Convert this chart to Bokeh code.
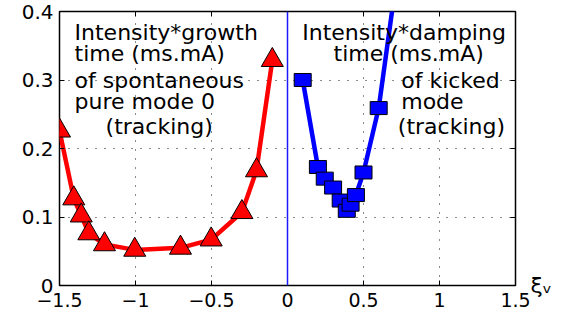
from bokeh.plotting import figure
from bokeh.models import Range1d, FixedTicker, LinearAxis, Span, Label
from bokeh.embed import file_html
from bokeh.resources import INLINE

# ---- data ----
growth_xi = [-1.5, -1.406, -1.357, -1.307, -1.204, -1.005, -0.704, -0.502, -0.30, -0.204, -0.10]
growth_val = [0.226, 0.127, 0.102, 0.076, 0.060, 0.052, 0.055, 0.067, 0.107, 0.168, 0.329]

damping_xi = [0.10, 0.20, 0.245, 0.30, 0.35, 0.39, 0.415, 0.45, 0.50, 0.60, 0.70]
damping_val = [0.300, 0.173, 0.156, 0.143, 0.124, 0.109, 0.118, 0.132, 0.165, 0.259, 0.42]

x_ticks = [-1.5, -1.0, -0.5, 0.0, 0.5, 1.0, 1.5]
x_tick_labels = ["\u22121.5", "\u22121", "\u22120.5", "0", "0.5", "1", "1.5"]
x_grid_ticks = [-1.0, -0.5, 0.5, 1.0]
y_ticks = [0.0, 0.1, 0.2, 0.3, 0.4]
y_tick_labels = ["0", "0.1", "0.2", "0.3", "0.4"]
x_name = "\u03be\u1d65"

FONT = "DejaVu Sans"

p = figure(width=563, height=315, x_range=Range1d(-1.5, 1.5), y_range=Range1d(0, 0.4),
           output_backend="svg", toolbar_location=None,
           min_border_left=59, min_border_right=48, min_border_top=11, min_border_bottom=30)
p.background_fill_color = "white"
p.border_fill_color = "white"
p.outline_line_color = "black"
p.outline_line_width = 1.5
p.outline_line_alpha = 1.0


def style_axis(ax):
    ax.major_tick_in = 5
    ax.major_tick_out = 0
    ax.minor_tick_in = 0
    ax.minor_tick_out = 0
    ax.axis_line_color = None
    ax.major_tick_line_color = "black"
    ax.major_label_text_font = FONT
    ax.major_label_text_color = "black"


for ax in p.xaxis:
    style_axis(ax)
    ax.ticker = FixedTicker(ticks=x_ticks)
    ax.major_label_overrides = dict(zip(x_ticks, x_tick_labels))
    ax.major_label_text_font_size = "19px"
    ax.major_label_standoff = 7

for ax in p.yaxis:
    style_axis(ax)
    ax.ticker = FixedTicker(ticks=y_ticks)
    ax.major_label_overrides = dict(zip(y_ticks, y_tick_labels))
    ax.major_label_text_font_size = "20px"
    ax.major_label_standoff = 6

top = LinearAxis(ticker=FixedTicker(ticks=x_ticks),
                 major_label_overrides={t: "" for t in x_ticks}, major_label_standoff=0)
style_axis(top)
p.add_layout(top, "above")

right_labels = {t: "" for t in y_ticks}
right_labels[y_ticks[0]] = x_name
right = LinearAxis(ticker=FixedTicker(ticks=y_ticks), major_label_overrides=right_labels,
                   major_label_standoff=15)
style_axis(right)
right.major_label_text_font_size = "22px"
p.add_layout(right, "right")

# grid
p.xgrid.ticker = FixedTicker(ticks=x_grid_ticks)
p.ygrid.ticker = FixedTicker(ticks=y_ticks)
for g in (p.xgrid[0], p.ygrid[0]):
    g.grid_line_color = "black"
    g.grid_line_dash = "1 8"
    g.grid_line_width = 1
    g.grid_line_alpha = 0.9

# vertical line at xi = 0
p.add_layout(Span(location=0, dimension="height", line_color="#1a1aff", line_width=1.5))

# growth (red)
p.line(growth_xi, growth_val, line_color="#ff0000", line_width=4.5)
p.scatter(growth_xi, growth_val, marker="triangle", size=22, fill_color="#ff0000",
          line_color="black", line_width=1)

# damping (blue)
p.line(damping_xi, damping_val, line_color="#0000ff", line_width=4.5)
p.rect(damping_xi, damping_val, width=17, height=13, width_units="screen", height_units="screen",
       fill_color="#0000ff", line_color="black", line_width=1)


# annotations
def note(x, y, txt):
    p.add_layout(Label(x=x, y=y, text=txt, text_align="left", text_baseline="middle",
                       text_font=FONT, text_font_size="22px", text_color="black"))


note(-1.401, 0.369, "Intensity*growth")
note(-1.401, 0.338, "time (ms.mA)")
note(-1.401, 0.299, "of spontaneous")
note(-1.401, 0.268, "pure mode 0")
note(-1.197, 0.232, "(tracking)")

note(0.097, 0.369, "Intensity*damping")
note(0.303, 0.338, "time (ms.mA)")
note(0.748, 0.299, "of kicked")
note(0.748, 0.268, "mode")
note(0.726, 0.232, "(tracking)")

open("out.html", "w").write(file_html(p, INLINE))
